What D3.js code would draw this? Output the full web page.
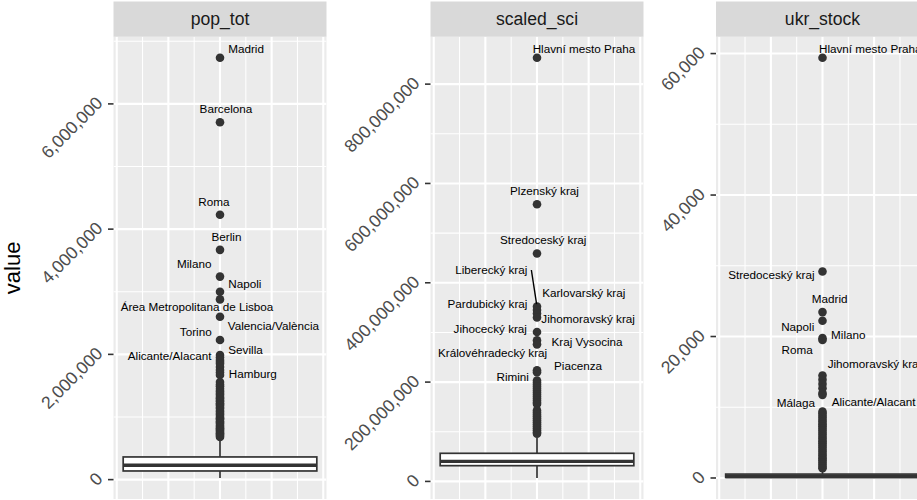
<!DOCTYPE html>
<html><head><meta charset="utf-8">
<script src="https://cdn.jsdelivr.net/npm/d3@7"></script>
<style>
body{margin:0;background:#fff}
svg{display:block}
text{font-family:"Liberation Sans",Arial,Helvetica,sans-serif}
</style>
</head><body>
<svg id="chart" width="917" height="500"></svg>
<script>
// ---------- DATA ----------
const facets = ["pop_tot", "scaled_sci", "ukr_stock"];
const yTicks = [
  [0, 2000000, 4000000, 6000000],
  [0, 200000000, 400000000, 600000000, 800000000],
  [0, 20000, 40000, 60000]
];
// box statistics: [lower whisker, Q1, median, Q3, upper whisker]
const boxPop = [26000, 138000, 229000, 362000, 656000];
const boxSci = [6900000, 31700000, 40400000, 56600000, 88000000];
const boxUkr = [0, 80, 200, 550, 1200];

// labelled outliers
const namesPop = ["Madrid","Barcelona","Roma","Berlin","Milano","Napoli","Área Metropolitana de Lisboa","Valencia/València","Torino","Sevilla","Alicante/Alacant","Hamburg"];
const valuesPop = [6736000,5706000,4229000,3669000,3242000,3000000,2878000,2600000,2229000,1950000,1910000,1850000];
const namesSci = ["Hlavní mesto Praha","Plzenský kraj","Stredoceský kraj","Liberecký kraj","Karlovarský kraj","Pardubický kraj","Jihomoravský kraj","Jihocecký kraj","Kraj Vysocina","Královéhradecký kraj","Piacenza","Rimini"];
const valuesSci = [853000000,558000000,459000000,352000000,345000000,338000000,330000000,301000000,284000000,276000000,224000000,220000000];
const namesUkr = ["Hlavní mesto Praha","Stredoceský kraj","Madrid","Napoli","Milano","Roma","Jihomoravský kraj","Málaga","Alicante/Alacant"];
const valuesUkr = [59400,29200,23450,22220,19770,19500,14480,12000,11750];

// other (unlabelled) outliers
const otherPop = [1990000,1880000,1800000,1750000,1710000,1670000,1560000,1520000,1490000,1450000,1420000,1400000,1370000,1350000,1320000,1300000,1270000,1250000,1220000,1200000,1180000,1150000,1130000,1100000,1080000,1050000,1030000,1000000,980000,960000,930000,910000,890000,860000,840000,820000,800000,780000,760000,740000,720000,700000,680000];
const otherSci = [203000000,199000000,195000000,191000000,187000000,183000000,179000000,175000000,171000000,167000000,163000000,159000000,156000000,143000000,139000000,135000000,131000000,127000000,123000000,119000000,115000000,111000000,107000000,103000000,99000000,96000000];
const otherUkr = [13900,13300,12700,9380,9100,8800,8500,8200,7900,7600,7300,7000,6700,6400,6100,5800,5500,5200,4900,4600,4300,4000,3700,3400,3100,2800,2500,2200,1900,1600,1370];

// ---------- LABEL LAYOUT (label centre: x in panel units, y in value units) ----------
const labelPosPop = [[0.101,6880000],[0.023,5920000],[-0.024,4448000],[0.025,3882000],[-0.100,3445000],[0.096,3136000],[-0.089,2757000],[0.207,2458000],[-0.094,2373000],[0.099,2080000],[-0.195,1989000],[0.127,1696000]];
const labelPosSci = [[0.182,871500000],[0.029,585900000],[0.024,486300000],[-0.177,427700000],[0.181,380600000],[-0.192,358400000],[0.198,328100000],[-0.181,307900000],[0.194,280800000],[-0.172,260600000],[0.159,233700000],[-0.094,212100000]];
const labelPosUkr = [[0.185,60680],[-0.198,28730],[0.028,25340],[-0.096,21415],[0.100,20240],[-0.098,18117],[0.201,16136],[-0.103,10658],[0.198,10757]];
const segmentSci = ["Liberecký kraj"];

const panels = [
  {name: facets[0], ticks: yTicks[0], box: boxPop, names: namesPop, values: valuesPop, others: otherPop, labelPos: labelPosPop, segs: []},
  {name: facets[1], ticks: yTicks[1], box: boxSci, names: namesSci, values: valuesSci, others: otherSci, labelPos: labelPosSci, segs: segmentSci},
  {name: facets[2], ticks: yTicks[2], box: boxUkr, names: namesUkr, values: valuesUkr, others: otherUkr, labelPos: labelPosUkr, segs: []}
];

// ---------- LAYOUT ----------
const panelLefts = [113.5, 430.5, 716];
const panelW = 213;
const stripTop = 1.5, panelTop = 36.8, panelBottom = 499;
const svg = d3.select("#chart");
const fmt = d3.format(",");

panels.forEach((p, i) => {
  const left = panelLefts[i];
  const x = d3.scaleLinear().domain([-0.4125, 0.4125]).range([left, left + panelW]);
  const all = p.values.concat(p.others, [p.box[0], p.box[4]]);
  const lo = d3.min(all), hi = d3.max(all), r = hi - lo;
  const y = d3.scaleLinear().domain([lo - 0.05 * r, hi + 0.05 * r]).range([panelBottom, panelTop]);
  const g = svg.append("g");

  // strip
  g.append("rect").attr("x", left).attr("y", stripTop).attr("width", panelW).attr("height", panelTop - stripTop).attr("fill", "#D9D9D9");
  g.append("text").attr("x", left + panelW / 2).attr("y", (stripTop + panelTop) / 2).attr("text-anchor", "middle")
    .attr("dominant-baseline", "central").attr("font-size", 17.6).attr("fill", "#1A1A1A").text(p.name);

  // panel background
  g.append("rect").attr("x", left).attr("y", panelTop).attr("width", panelW).attr("height", panelBottom - panelTop).attr("fill", "#EBEBEB");

  const clip = "clip" + i;
  svg.append("clipPath").attr("id", clip).append("rect").attr("x", left).attr("y", panelTop).attr("width", panelW).attr("height", panelBottom - panelTop);
  const pg = g.append("g").attr("clip-path", `url(#${clip})`);

  // grid: minor y
  const step = p.ticks[1] - p.ticks[0];
  const minorY = d3.range(p.ticks[0] - step / 2, y.domain()[1], step).filter(v => v > y.domain()[0]);
  pg.selectAll(".minY").data(minorY).join("line").attr("x1", left).attr("x2", left + panelW)
    .attr("y1", d => y(d)).attr("y2", d => y(d)).attr("stroke", "#fff").attr("stroke-width", 1.05);
  // grid: x lines
  const xMinor = [-0.3, -0.1, 0.1, 0.3], xMajor = [-0.4, -0.2, 0, 0.2, 0.4];
  pg.selectAll(".minX").data(xMinor).join("line").attr("x1", d => x(d)).attr("x2", d => x(d))
    .attr("y1", panelTop).attr("y2", panelBottom).attr("stroke", "#fff").attr("stroke-width", 1.05);
  pg.selectAll(".majY").data(p.ticks).join("line").attr("x1", left).attr("x2", left + panelW)
    .attr("y1", d => y(d)).attr("y2", d => y(d)).attr("stroke", "#fff").attr("stroke-width", 2.1);
  pg.selectAll(".majX").data(xMajor).join("line").attr("x1", d => x(d)).attr("x2", d => x(d))
    .attr("y1", panelTop).attr("y2", panelBottom).attr("stroke", "#fff").attr("stroke-width", 2.1);

  // y axis ticks + labels
  const ax = g.append("g");
  ax.selectAll("line").data(p.ticks).join("line").attr("x1", left - 5.5).attr("x2", left)
    .attr("y1", d => y(d)).attr("y2", d => y(d)).attr("stroke", "#333").attr("stroke-width", 1.6);
  ax.selectAll("text").data(p.ticks).join("text")
    .attr("transform", d => `translate(${left - 14},${y(d) - 4}) rotate(-45)`)
    .attr("text-anchor", "end").attr("dominant-baseline", "central")
    .attr("font-size", 17.6).attr("fill", "#4D4D4D").text(d => fmt(d));

  // box plot
  const [wl, q1, med, q3, wh] = p.box;
  const cx = x(0), bw = 0.375;
  const lw = 1.7;
  pg.append("line").attr("x1", cx).attr("x2", cx).attr("y1", y(q3)).attr("y2", y(wh)).attr("stroke", "#333").attr("stroke-width", lw);
  pg.append("line").attr("x1", cx).attr("x2", cx).attr("y1", y(q1)).attr("y2", y(wl)).attr("stroke", "#333").attr("stroke-width", lw);
  pg.append("rect").attr("x", x(-bw)).attr("width", x(bw) - x(-bw)).attr("y", y(q3)).attr("height", Math.max(0, y(q1) - y(q3)))
    .attr("fill", "#fff").attr("stroke", "#333").attr("stroke-width", lw);
  pg.append("line").attr("x1", x(-bw)).attr("x2", x(bw)).attr("y1", y(med)).attr("y2", y(med)).attr("stroke", "#333").attr("stroke-width", lw * 2);

  // outliers
  const pts = p.others.concat(p.values);
  pg.selectAll(".pt").data(pts).join("circle").attr("cx", cx).attr("cy", d => y(d)).attr("r", 4.3).attr("fill", "#333");

  // labels
  p.names.forEach((n, k) => {
    const lp = p.labelPos[k];
    const lx = x(lp[0]), ly = y(lp[1]);
    const t = g.append("text").attr("x", lx).attr("y", ly).attr("text-anchor", "middle").attr("dominant-baseline", "central")
      .attr("font-size", 11.7).attr("fill", "#000").text(n);
    if (p.segs.includes(n)) {
      const bb = t.node().getBBox();
      const sx = bb.x + bb.width + 4, sy = ly + 1;
      const px = cx, py = y(p.values[k]);
      const dx = px - sx, dy = py - sy, L = Math.hypot(dx, dy);
      g.append("line").attr("x1", sx).attr("y1", sy).attr("x2", px - dx / L * 2.5).attr("y2", py - dy / L * 2.5)
        .attr("stroke", "#000").attr("stroke-width", 1.4);
    }
  });
});

// axis title
svg.append("text").attr("transform", `translate(12,${(panelTop + panelBottom) / 2}) rotate(-90)`)
  .attr("text-anchor", "middle").attr("dominant-baseline", "central").attr("font-size", 22).attr("fill", "#000").text("value");
</script>
</body></html>
